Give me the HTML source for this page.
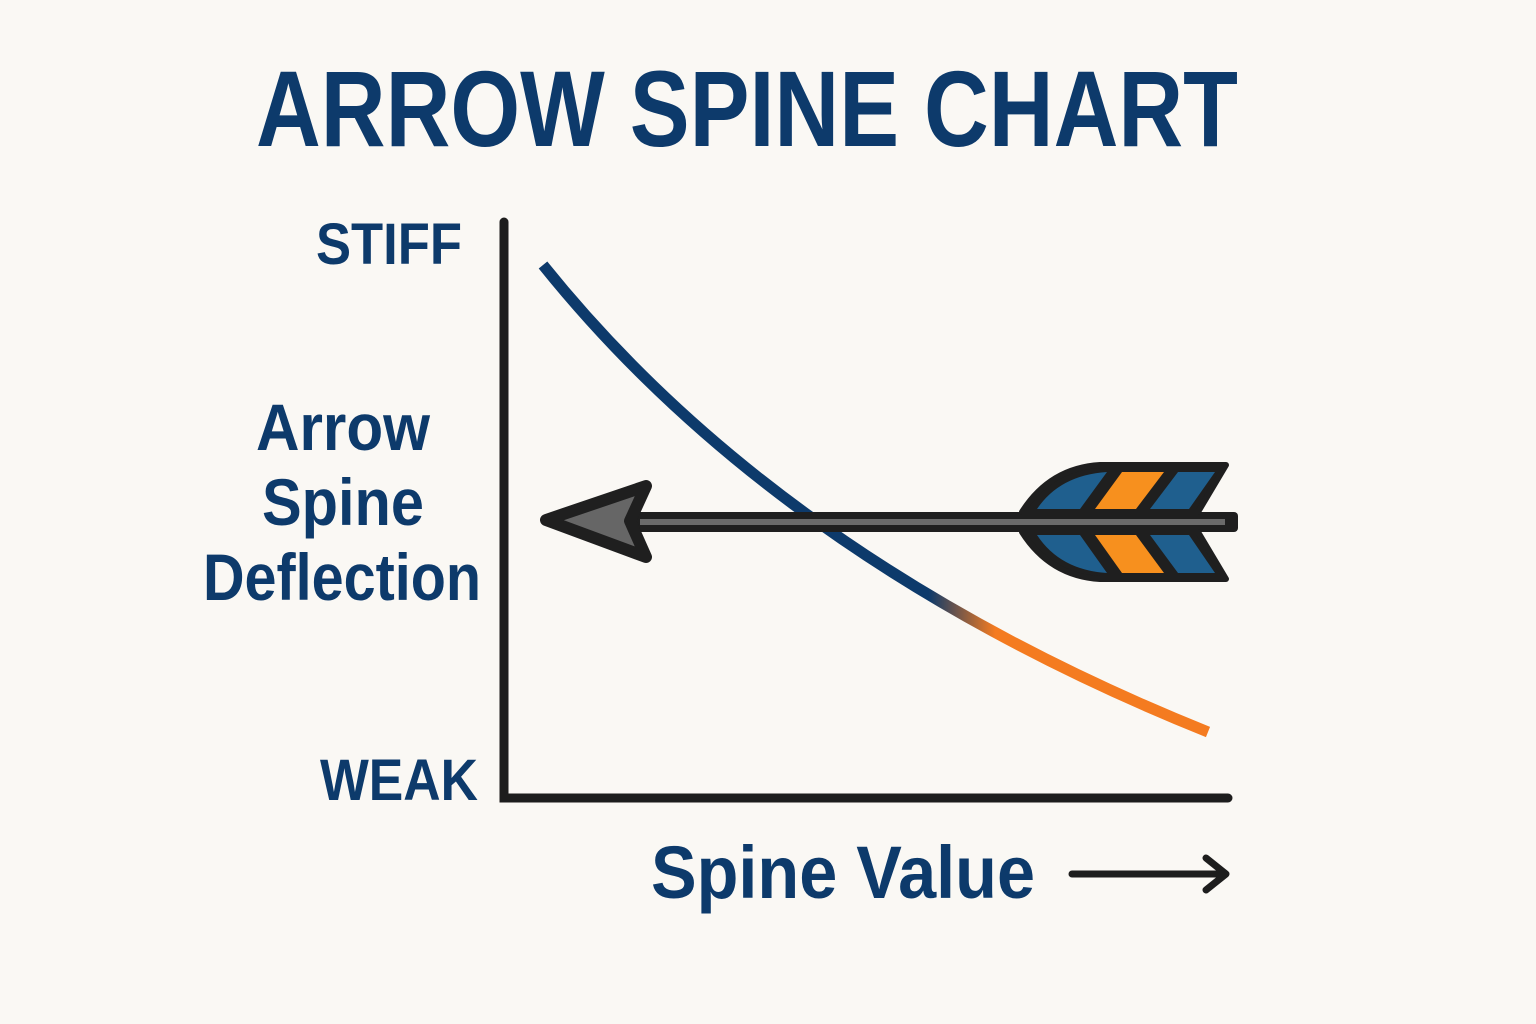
<!DOCTYPE html>
<html><head><style>body{margin:0;background:#faf8f4}svg{display:block}</style></head><body>
<svg width="1536" height="1024" viewBox="0 0 1536 1024" xmlns="http://www.w3.org/2000/svg" font-family="Liberation Sans, sans-serif" font-weight="bold" fill="#0d3a6b">
<rect width="1536" height="1024" fill="#faf8f4"/>
<text x="256" y="146" font-size="108" textLength="982" lengthAdjust="spacingAndGlyphs">ARROW SPINE CHART</text>
<text x="316" y="264" font-size="58" textLength="146" lengthAdjust="spacingAndGlyphs">STIFF</text>
<text x="256" y="450" font-size="66" textLength="174" lengthAdjust="spacingAndGlyphs">Arrow</text>
<text x="262" y="525" font-size="66" textLength="162" lengthAdjust="spacingAndGlyphs">Spine</text>
<text x="203" y="600" font-size="66" textLength="278" lengthAdjust="spacingAndGlyphs">Deflection</text>
<text x="320" y="800" font-size="58" textLength="158" lengthAdjust="spacingAndGlyphs">WEAK</text>
<text x="651" y="898" font-size="74" textLength="384" lengthAdjust="spacingAndGlyphs">Spine Value</text>
<g stroke="#1d1d1d" stroke-linecap="round" fill="none">
<path d="M504 222 V798 H1228" stroke-width="9"/>
<path d="M1072 874 H1224 M1206 858 L1226 874 L1206 890" stroke-width="7" stroke-linejoin="round"/>
</g>
<defs><linearGradient id="g" x1="543" y1="0" x2="1208" y2="0" gradientUnits="userSpaceOnUse">
<stop offset="0.58" stop-color="#0d3a6b"/><stop offset="0.68" stop-color="#f47b20"/></linearGradient></defs>
<path d="M543 265 Q780 560 1208 732" stroke="url(#g)" stroke-width="11" fill="none"/>
<!-- shaft -->
<rect x="610" y="512" width="628" height="20" rx="4" fill="#1f1f1f"/>
<rect x="640" y="519" width="585" height="6" fill="#6a6a6a"/>
<!-- head -->
<path d="M546 520 L646 486 L630 521 L646 557 Z" fill="#666" stroke="#1f1f1f" stroke-width="12" stroke-linejoin="round"/>
<!-- fletching -->
<path d="M1022 512 Q1050 468 1100 465 L1226 465 L1198 512 Z" fill="#1f1f1f" stroke="#1f1f1f" stroke-width="6" stroke-linejoin="round"/>
<path d="M1022 532 Q1050 576 1100 579 L1226 579 L1198 532 Z" fill="#1f1f1f" stroke="#1f1f1f" stroke-width="6" stroke-linejoin="round"/>
<path d="M1037 509 Q1060 475 1107 472 L1080 509 Z" fill="#1f5f8e"/>
<path d="M1095 509 L1122 472 L1164 472 L1136 509 Z" fill="#f7901e"/>
<path d="M1150 509 L1178 472 L1215 472 L1189 509 Z" fill="#1f5f8e"/>
<path d="M1037 535 Q1060 570 1107 573 L1080 535 Z" fill="#1f5f8e"/>
<path d="M1095 535 L1122 573 L1164 573 L1136 535 Z" fill="#f7901e"/>
<path d="M1150 535 L1178 573 L1215 573 L1189 535 Z" fill="#1f5f8e"/>
</svg>
</body></html>
